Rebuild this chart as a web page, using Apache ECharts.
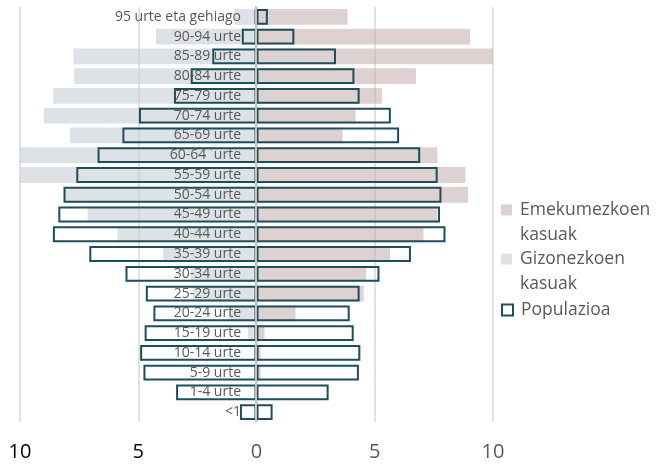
<!DOCTYPE html>
<html>
<head>
<meta charset="utf-8">
<script src="https://cdn.jsdelivr.net/npm/echarts@6/dist/echarts.min.js"></script>
<style>html,body{margin:0;padding:0;background:#fff}#c{width:656px;height:466px}</style>
</head>
<body>
<div id="c"></div>
<script>
const categories = ['95 urte eta gehiago','90-94 urte','85-89 urte','80-84 urte','75-79 urte','70-74 urte','65-69 urte','60-64 ´urte','55-59 urte','50-54 urte','45-49 urte','40-44 urte','35-39 urte','30-34 urte','25-29 urte','20-24 urte','15-19 urte','10-14 urte','5-9 urte','1-4 urte','<1'];
const womenCases = [3.85, 9.03, 10.1, 6.74, 5.3, 4.19, 3.64, 7.65, 8.83, 8.95, 7.65, 7.06, 5.65, 4.64, 4.53, 1.65, 0.34, 0.17, 0.17, 0, 0];
const menCases = [0.93, 4.25, 7.74, 7.71, 8.59, 9.0, 7.88, 10.0, 10.0, 8.1, 7.14, 5.88, 3.95, 2.78, 2.7, 1.17, 0.37, 0.11, 0.11, 0, 0];
const womenPop = [0.48, 1.6, 3.36, 4.14, 4.36, 5.68, 6.03, 6.92, 7.66, 7.82, 7.76, 7.99, 6.53, 5.2, 4.36, 3.94, 4.11, 4.39, 4.33, 3.05, 0.68];
const menPop = [0.08, 0.62, 1.87, 2.78, 3.49, 4.97, 5.67, 6.72, 7.62, 8.16, 8.38, 8.61, 7.07, 5.54, 4.68, 4.36, 4.73, 4.92, 4.78, 3.4, 0.7];
const seriesNames = ['Emekumezkoen kasuak', 'Gizonezkoen kasuak', 'Populazioa'];

const FONT = 'Open Sans';
const pink = 'rgba(200,178,178,0.6)';
const grey = 'rgba(200,206,214,0.6)';
const popBorder = '#1e4d5c';

const chart = echarts.init(document.getElementById('c'), null, {renderer: 'canvas'});

function legendFor(name, top, twoLine, icon) {
  return {
    show: true,
    orient: 'vertical',
    left: 501,
    top: top,
    padding: 0,
    itemWidth: 11,
    itemHeight: 11,
    icon: 'rect',
    selectedMode: false,
    formatter: twoLine ? (n => '\n' + n.replace(' ', '\n')) : (n => n),
    textStyle: {
      fontFamily: FONT, fontSize: 17.5, color: '#595959', lineHeight: 25,
      padding: [0, 0, 0, 3]
    },
    data: [Object.assign({name: name}, icon ? {itemStyle: icon} : {})]
  };
}

const option = {
  animation: false,
  backgroundColor: '#fff',
  grid: {left: 20, right: 163, top: 7, bottom: 44, containLabel: false, outerBoundsMode: 'none'},
  legend: [
    legendFor(seriesNames[0], 172.5, true),
    legendFor(seriesNames[1], 221.5, true),
    legendFor(seriesNames[2], 297.5, false, {color: '#fff', borderColor: popBorder, borderWidth: 2})
  ],
  xAxis: {
    type: 'value', min: -10, max: 10, interval: 5,
    axisLine: {show: false}, axisTick: {show: false},
    splitLine: {show: true, lineStyle: {color: '#d9d9d9', width: 1.5}},
    axisLabel: {
      fontFamily: FONT, fontSize: 20, margin: 20,
      formatter: v => String(Math.abs(v)),
      color: v => (v < 0 ? '#000000' : '#595959')
    }
  },
  yAxis: {
    type: 'category', data: categories, inverse: true, z: 10,
    offset: -236,
    axisLine: {show: true, onZero: false, lineStyle: {color: '#bfc4c6', width: 2}},
    axisTick: {show: false},
    axisLabel: {fontFamily: FONT, fontSize: 14, color: '#595959', margin: 15}
  },
  series: [
    {name: seriesNames[0], type: 'bar', data: womenCases, barGap: '-100%', barCategoryGap: '20%',
      itemStyle: {color: pink}, z: 2},
    {name: seriesNames[1], type: 'bar', data: menCases.map(v => -v), barGap: '-100%', barCategoryGap: '20%',
      itemStyle: {color: grey}, z: 2},
    {name: seriesNames[2], type: 'bar', data: womenPop, barGap: '-100%', barCategoryGap: '20%',
      itemStyle: {color: 'rgba(0,0,0,0)', borderColor: popBorder, borderWidth: 2}, z: 3},
    {name: seriesNames[2], type: 'bar', data: menPop.map(v => -v), barGap: '-100%', barCategoryGap: '20%',
      itemStyle: {color: 'rgba(0,0,0,0)', borderColor: popBorder, borderWidth: 2}, z: 3}
  ]
};
chart.setOption(option);
</script>
</body>
</html>
